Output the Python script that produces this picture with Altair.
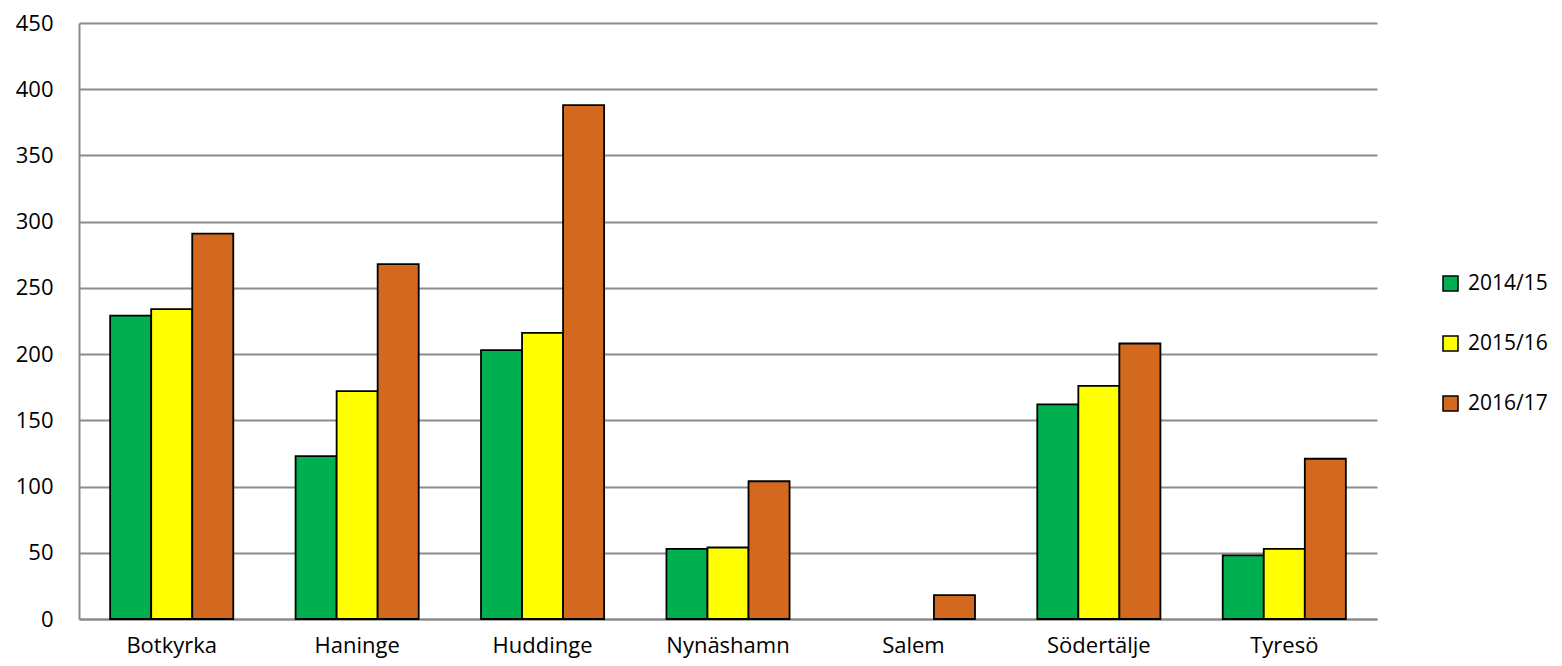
import altair as alt
import pandas as pd

municipalities = ["Botkyrka", "Haninge", "Huddinge", "Nynäshamn", "Salem", "Södertälje", "Tyresö"]
years = ["2014/15", "2015/16", "2016/17"]
v_2014_15 = [229, 123, 203, 53, None, 162, 48]
v_2015_16 = [234, 172, 216, 54, None, 176, 53]
v_2016_17 = [291, 268, 388, 104, 18, 208, 121]
colors = ["#00B050", "#FFFF00", "#D2691E"]

rows = []
for series, vals in zip(years, [v_2014_15, v_2015_16, v_2016_17]):
    for m, v in zip(municipalities, vals):
        rows.append({"kommun": m, "year": series, "value": v})
df = pd.DataFrame(rows)

FONT = "Open Sans"
GRID = "#8c8c8c"

chart = alt.Chart(df).mark_bar(stroke="black", strokeWidth=1.8).encode(
    x=alt.X("kommun:N", sort=municipalities, title=None,
            scale=alt.Scale(paddingInner=0.336, paddingOuter=0.168),
            axis=alt.Axis(labelAngle=0, ticks=False, labelPadding=16, labelFontSize=22,
                          labelFont=FONT, labelColor="black", domainColor=GRID,
                          domainWidth=2, grid=False)),
    xOffset=alt.XOffset("year:N", sort=years),
    y=alt.Y("value:Q", title=None,
            scale=alt.Scale(domain=[0, 450], nice=False),
            axis=alt.Axis(values=list(range(0, 451, 50)), ticks=False, labelPadding=26,
                          labelFontSize=22, labelFont=FONT, labelColor="black",
                          domainColor=GRID, domainWidth=2,
                          gridColor=GRID, gridWidth=2)),
    color=alt.Color("year:N", sort=years, title=None,
                    scale=alt.Scale(domain=years, range=colors),
                    legend=alt.Legend(orient="none", legendX=1361, legendY=250,
                                      symbolType="square", symbolSize=225,
                                      symbolStrokeColor="black", symbolStrokeWidth=1.5,
                                      labelFontSize=21, labelFont=FONT, labelColor="black",
                                      rowPadding=38, labelOffset=7, padding=0)),
).properties(
    width=1298, height=596,
    autosize=alt.AutoSizeParams(type="none"),
    padding={"left": 71, "top": 15, "right": 177, "bottom": 39},
).configure_view(stroke=None)

chart.save("out.html", embed_options={"renderer": "svg", "actions": False})
